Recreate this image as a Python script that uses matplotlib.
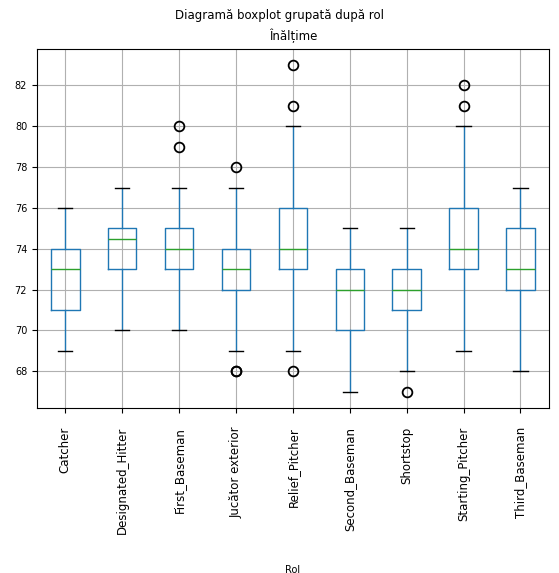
import matplotlib.pyplot as plt

roles = ['Catcher', 'Designated_Hitter', 'First_Baseman', 'Jucător exterior',
         'Relief_Pitcher', 'Second_Baseman', 'Shortstop', 'Starting_Pitcher',
         'Third_Baseman']
whislo = [69, 70, 70, 69, 69, 67, 68, 69, 68]
q1 = [71, 73, 73, 72, 73, 70, 71, 73, 72]
med = [73, 74.5, 74, 73, 74, 72, 72, 74, 73]
q3 = [74, 75, 75, 74, 76, 73, 73, 76, 75]
whishi = [76, 77, 77, 77, 80, 75, 75, 80, 77]
fliers = [[], [], [79, 80], [78, 68, 68], [81, 83, 68], [], [67], [81, 82], []]

stats = []
for i, r in enumerate(roles):
    stats.append(dict(label=r, whislo=whislo[i], q1=q1[i], med=med[i],
                      q3=q3[i], whishi=whishi[i], fliers=fliers[i]))

fig, ax = plt.subplots(figsize=(5.59, 5.73), dpi=100)
ax.bxp(stats,
       boxprops=dict(color='#1f77b4'),
       whiskerprops=dict(color='#1f77b4'),
       capprops=dict(color='black'),
       medianprops=dict(color='#2ca02c'),
       flierprops=dict(marker='o', markerfacecolor='none',
                       markeredgecolor='black', markersize=7, markeredgewidth=1.3))
ax.grid(True, color='#b0b0b0')
ax.set_axisbelow(True)
ax.set_ylim(66.2, 83.8)
ax.set_yticks([68, 70, 72, 74, 76, 78, 80, 82])
ax.tick_params(axis='y', labelsize=7)
ax.tick_params(axis='x', labelsize=8.5, rotation=90, pad=10)
ax.set_title('Înălțime', fontsize=8.5)
fig.suptitle('Diagramă boxplot grupată după rol', fontsize=8.5, y=0.985)
ax.set_xlabel('Rol', fontsize=7, labelpad=22)
fig.subplots_adjust(left=0.066, right=0.982, top=0.915, bottom=0.288)
fig.savefig('out.png', dpi=100)
